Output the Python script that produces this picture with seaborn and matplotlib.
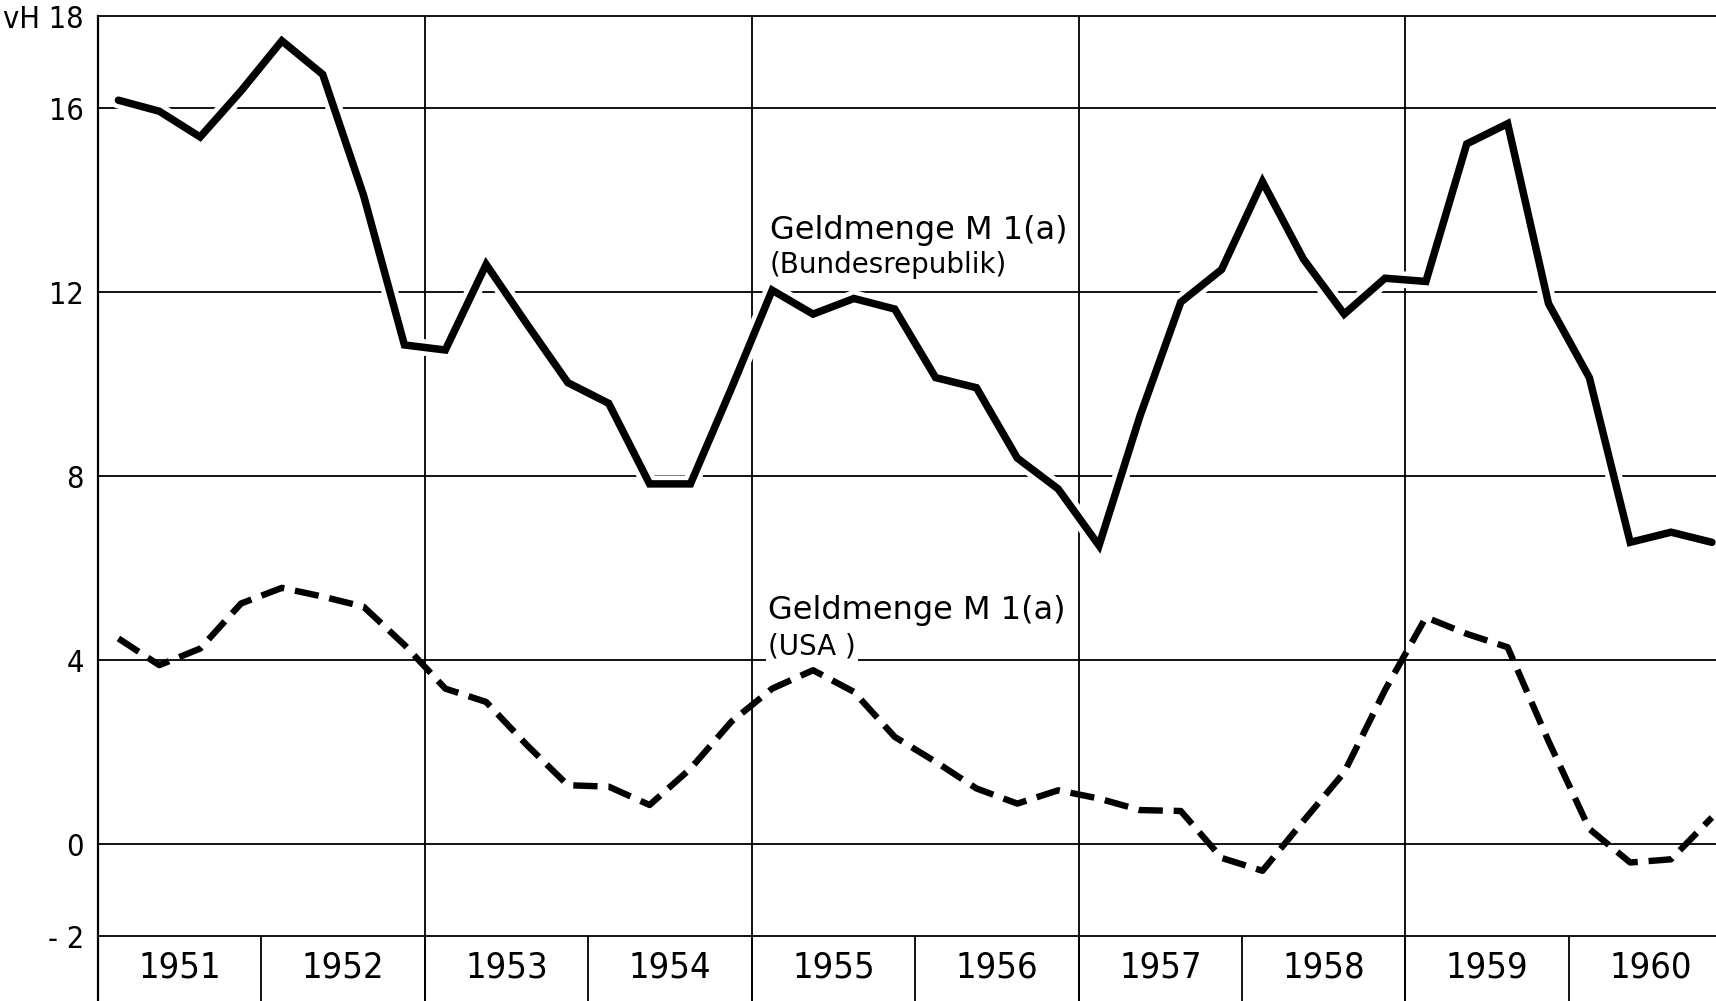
import numpy as np
import pandas as pd
import matplotlib
matplotlib.use("Agg")
import matplotlib.pyplot as plt
import matplotlib.patheffects as pe
import seaborn as sns

# ---- data (quarterly growth rates, vH) ----
years = list(range(1951, 1961))
quarters = [1, 2, 3, 4]
brd = [16.17, 15.93, 15.37, 16.37,
       17.46, 16.73, 14.10, 10.85,
       10.74, 12.60, 11.30, 10.03,
       9.58, 7.83, 7.83, 9.90,
       12.04, 11.52, 11.86, 11.63,
       10.14, 9.92, 8.39, 7.72,
       6.49, 9.30, 11.78, 12.49,
       14.40, 12.72, 11.52, 12.30,
       12.23, 15.22, 15.66, 11.75,
       10.14, 6.56, 6.78, 6.56]
usa = [4.47, 3.89, 4.25, 5.23,
       5.57, 5.38, 5.16, 4.33,
       3.38, 3.09, 2.15, 1.28,
       1.25, 0.85, 1.64, 2.66,
       3.38, 3.78, 3.31, 2.33,
       1.79, 1.21, 0.88, 1.17,
       0.99, 0.74, 0.72, -0.30,
       -0.58, 0.50, 1.56, 3.35,
       4.93, 4.57, 4.28, 2.24,
       0.33, -0.40, -0.33, 0.58]
ytick_vals = [18, 16, 12, 8, 4, 0, -2]
ytick_labels = ["vH 18", "16", "12", "8", "4", "0", "- 2"]
label_brd = ("Geldmenge M 1(a)", "(Bundesrepublik)")
label_usa = ("Geldmenge M 1(a)", "(USA )")

period_year = [y for y in years for q in quarters]
period_q = [q for y in years for q in quarters]
df = pd.DataFrame({"year": period_year, "quarter": period_q,
                   "brd": brd, "usa": usa})
df["t"] = df["year"] + (df["quarter"] - 0.5) / 4.0

sns.set_style("white")
plt.rcParams["font.family"] = ["DejaVu Sans"]

W, H = 1716, 1001
fig = plt.figure(figsize=(W / 100, H / 100), dpi=100)
ax = fig.add_axes([98 / W, 0, 1 - 98 / W, (H - 16) / H])

YMIN, YMAX = -3.41, 18
XMIN, XMAX = 1951, 1960.90
ax.set_xlim(XMIN, XMAX)
ax.set_ylim(YMIN, YMAX)

grid_kw = dict(color="black", lw=1.3, zorder=1)
for v in [16, 12, 8, 4, 0, -2]:
    ax.axhline(v, **grid_kw)
for x in [1953, 1955, 1957, 1959]:
    ax.axvline(x, **grid_kw)
ax.vlines([y for y in years[1:]], YMIN, -2, **grid_kw)

halo = [pe.Stroke(linewidth=12, foreground="white"), pe.Normal()]

sns.lineplot(data=df, x="t", y="brd", ax=ax, color="black", lw=5.4,
             zorder=4, sort=True)
l1 = ax.lines[-1]
l1.set_solid_joinstyle("miter")
l1.set_path_effects(halo)

sns.lineplot(data=df, x="t", y="usa", ax=ax, color="black", lw=4.6,
             zorder=3, sort=True)
l2 = ax.lines[-1]
l2.set_dashes((3.8, 1.7))
l2.set_dash_capstyle("butt")
l2.set_solid_joinstyle("round")

# axes styling
for s in ["right", "bottom"]:
    ax.spines[s].set_visible(False)
ax.spines["left"].set_linewidth(1.6)
ax.spines["left"].set_color("black")
ax.spines["top"].set_linewidth(1.3)
ax.spines["top"].set_color("black")
ax.set_xlabel("")
ax.set_ylabel("")
ax.set_xticks([])
ax.set_yticks(ytick_vals)
ax.set_yticklabels(ytick_labels)
narrow = ["Liberation Sans Narrow", "DejaVu Sans"]
for t in ax.get_yticklabels():
    t.set_fontfamily(narrow)
    t.set_fontstretch("condensed")
    t.set_fontsize(22)
ax.tick_params(axis="y", direction="out", length=3, width=1.3,
               color="black", pad=7, labelcolor="black")

# year labels in bottom band
for y in years:
    ax.text(y + 0.5, -2.68, str(y), ha="center", va="center",
            fontsize=26, family=narrow, fontstretch="condensed",
            color="black", zorder=5)

# series annotations
txt_kw = dict(ha="left", va="center", color="black", zorder=6)
ax.text(1955.11, 13.33, label_brd[0], fontsize=23, **txt_kw)
ax.text(1955.11, 12.58, label_brd[1], fontsize=20, **txt_kw)
ax.text(1955.10, 5.08, label_usa[0], fontsize=23, **txt_kw)
ax.text(1955.10, 4.30, label_usa[1], fontsize=20,
        bbox=dict(facecolor="white", edgecolor="none", pad=1.5), **txt_kw)

fig.savefig("out.png", dpi=100, facecolor="white")
